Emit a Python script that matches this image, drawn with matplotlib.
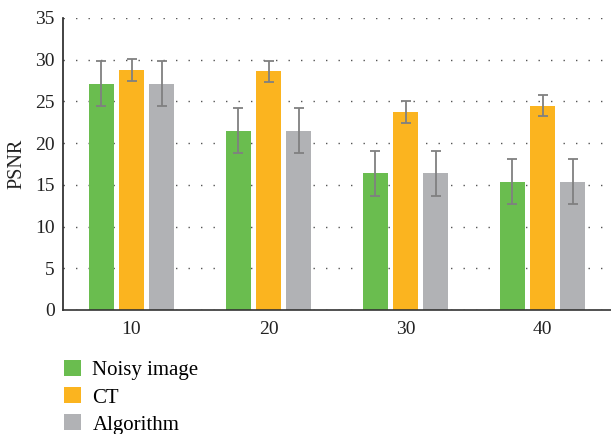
import matplotlib
matplotlib.use("Agg")
import matplotlib.pyplot as plt
import numpy as np
from matplotlib.patches import Patch

categories = ["10", "20", "30", "40"]
series_names = ["Noisy image", "CT", "Algorithm"]
noisy = [27.1, 21.5, 16.4, 15.4]
ct = [28.8, 28.6, 23.7, 24.5]
algorithm = [27.1, 21.5, 16.4, 15.4]
noisy_err = [2.7, 2.7, 2.7, 2.7]
ct_err = [1.3, 1.3, 1.3, 1.3]
algorithm_err = [2.7, 2.7, 2.7, 2.7]
yticks = [0, 5, 10, 15, 20, 25, 30, 35]

colors = ["#6abd4f", "#fbb41f", "#b1b2b5"]
plt.rcParams['font.family'] = ['Liberation Serif', 'DejaVu Serif']

fig = plt.figure(figsize=(6.11, 4.34), dpi=100)
ax = fig.add_axes([63/611, (434-310)/434, 1 - 63/611, (310-18)/434])

x = np.arange(len(categories))
w = 0.182
step = 0.222
for i, (vals, errs) in enumerate(zip([noisy, ct, algorithm], [noisy_err, ct_err, algorithm_err])):
    ax.bar(x + (i-1)*step, vals, width=w, color=colors[i], zorder=2,
           yerr=errs, error_kw=dict(ecolor="#808080", elinewidth=1.3, capsize=3.5, capthick=1.3, zorder=3))

ax.set_xlim(-0.5, 3.5)
ax.set_ylim(0, 35)
ax.set_yticks(yticks)
ax.set_xticks(x)
ax.set_xticklabels(categories)
ax.tick_params(axis='both', length=0, labelsize=14, colors="#222222", pad=6)
ax.tick_params(axis='x', pad=8)
ax.set_ylabel("PSNR", fontsize=14.5, color="#222222", labelpad=6)
ax.yaxis.grid(True, color="#555555", linewidth=1.0, linestyle=(0, (1, 8)), zorder=0)
ax.set_axisbelow(True)
for s in ["top", "right"]:
    ax.spines[s].set_visible(False)
ax.spines["left"].set_color("#222222")
ax.spines["bottom"].set_color("#333333")
ax.spines["left"].set_linewidth(1.2)
ax.spines["bottom"].set_linewidth(1.2)

handles = [Patch(facecolor=c, edgecolor='none') for c in colors]
fig.legend(handles, series_names, loc="upper left", bbox_to_anchor=(58/611, 1 - 354/434),
           frameon=False, fontsize=15, handlelength=0.8, handleheight=0.8,
           handletextpad=0.55, labelspacing=0.33, borderaxespad=0, borderpad=0.3)

fig.savefig("out.png", dpi=100)
